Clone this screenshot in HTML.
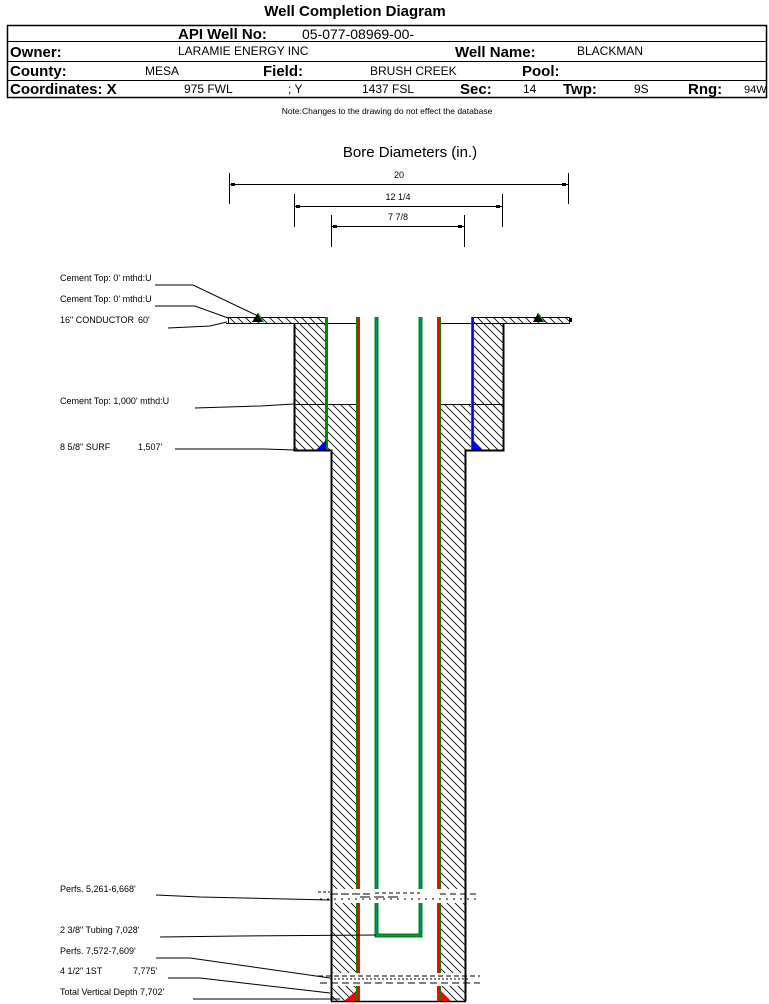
<!DOCTYPE html>
<html><head><meta charset="utf-8"><style>
html,body{margin:0;padding:0;background:#fff;}
svg{display:block;}
text{font-family:"Liberation Sans",sans-serif;fill:#000;}
</style></head><body>
<svg width="769" height="1004" viewBox="0 0 769 1004" xmlns="http://www.w3.org/2000/svg">
<defs>
<pattern id="h" width="8" height="8" patternUnits="userSpaceOnUse">
<line x1="0" y1="0" x2="8" y2="8" stroke="#000" stroke-width="0.8"/>
<line x1="-1" y1="7" x2="1" y2="9" stroke="#000" stroke-width="0.8"/>
<line x1="7" y1="-1" x2="9" y2="1" stroke="#000" stroke-width="0.8"/>
</pattern>
</defs>
<text x="355" y="16" font-size="15" font-weight="bold" text-anchor="middle">Well Completion Diagram</text>
<rect x="7.5" y="25.5" width="759" height="72" fill="none" stroke="#000" stroke-width="1.5"/>
<line x1="7" y1="41.5" x2="767" y2="41.5" stroke="#000"/>
<line x1="7" y1="61.5" x2="767" y2="61.5" stroke="#000"/>
<line x1="7" y1="80.5" x2="767" y2="80.5" stroke="#000"/>
<text x="178" y="39" font-size="15" font-weight="bold">API Well No:</text>
<text x="302" y="39" font-size="14">05-077-08969-00-</text>
<text x="10" y="57" font-size="15" font-weight="bold">Owner:</text>
<text x="178" y="55" font-size="12">LARAMIE ENERGY INC</text>
<text x="455" y="57" font-size="15" font-weight="bold">Well Name:</text>
<text x="577" y="55" font-size="12">BLACKMAN</text>
<text x="10" y="76" font-size="15" font-weight="bold">County:</text>
<text x="145" y="75" font-size="12">MESA</text>
<text x="263" y="76" font-size="15" font-weight="bold">Field:</text>
<text x="370" y="75" font-size="12">BRUSH CREEK</text>
<text x="522" y="76" font-size="15" font-weight="bold">Pool:</text>
<text x="10" y="94" font-size="15" font-weight="bold">Coordinates: X</text>
<text x="184" y="93" font-size="12">975 FWL</text>
<text x="288" y="93" font-size="12">; Y</text>
<text x="362" y="93" font-size="12">1437 FSL</text>
<text x="460" y="94" font-size="15" font-weight="bold">Sec:</text>
<text x="523" y="93" font-size="12">14</text>
<text x="563" y="94" font-size="15" font-weight="bold">Twp:</text>
<text x="634" y="93" font-size="12">9S</text>
<text x="688" y="94" font-size="15" font-weight="bold">Rng:</text>
<text x="744" y="93" font-size="11">94W</text>
<text x="387" y="114" font-size="8.5" text-anchor="middle">Note:Changes to the drawing do not effect the database</text>

<text x="410" y="157" font-size="15" text-anchor="middle">Bore Diameters (in.)</text>
<g stroke="#000" stroke-width="1">
<line x1="229.5" y1="173" x2="229.5" y2="204"/><line x1="568.5" y1="173" x2="568.5" y2="204"/>
<line x1="229" y1="184.5" x2="568" y2="184.5"/>
<line x1="294.5" y1="194" x2="294.5" y2="227"/><line x1="502.5" y1="194" x2="502.5" y2="227"/>
<line x1="294" y1="206.5" x2="502" y2="206.5"/>
<line x1="331.5" y1="215" x2="331.5" y2="247"/><line x1="464.5" y1="215" x2="464.5" y2="247"/>
<line x1="331" y1="226.5" x2="464" y2="226.5"/>
</g>
<g fill="#000">
<rect x="231" y="183" width="4" height="3"/><rect x="562" y="183" width="4" height="3"/>
<rect x="296" y="205" width="4" height="3"/><rect x="496" y="205" width="4" height="3"/>
<rect x="333" y="225" width="4" height="3"/><rect x="458" y="225" width="4" height="3"/>
</g>
<text x="399" y="178" font-size="9" text-anchor="middle">20</text>
<text x="398" y="200" font-size="9" text-anchor="middle">12 1/4</text>
<text x="398" y="220" font-size="9" text-anchor="middle">7 7/8</text>

<g fill="url(#h)">
<rect x="228" y="317" width="98" height="6"/>
<rect x="472" y="317" width="97" height="6"/>
<rect x="294" y="323" width="33" height="127"/>
<rect x="327" y="404" width="30" height="46"/>
<rect x="331" y="450" width="26" height="551"/>
<rect x="472" y="323" width="31" height="127"/>
<rect x="440" y="404" width="32" height="46"/>
<rect x="440" y="450" width="25" height="551"/>
</g>
<g stroke="#000" fill="none">
<rect x="228.5" y="317.5" width="98" height="6" stroke-width="1"/>
<rect x="472.5" y="317.5" width="97" height="6" stroke-width="1"/>
<line x1="226" y1="323.5" x2="357" y2="323.5"/>
<line x1="440" y1="323.5" x2="569" y2="323.5"/>
<polyline points="294.5,323 294.5,450.5 331.5,450.5 331.5,1001" stroke-width="2"/>
<polyline points="503.5,323 503.5,450.5 465.5,450.5 465.5,1001" stroke-width="2"/>
<line x1="294" y1="404.5" x2="357" y2="404.5"/>
<line x1="440" y1="404.5" x2="503" y2="404.5"/>
<line x1="331" y1="1001.5" x2="466" y2="1001.5" stroke-width="1.5"/>
</g>
<rect x="569" y="318" width="3" height="4" fill="#000"/>
<polygon points="252,322 258,313 264,322" fill="#000"/>
<line x1="258" y1="313" x2="263" y2="322" stroke="#0a0" stroke-width="1.2"/>
<polygon points="533,322 538,313 545,322" fill="#000"/>
<line x1="538" y1="313" x2="544" y2="322" stroke="#0a0" stroke-width="1.2"/>

<rect x="325" y="317" width="3" height="133" fill="#080"/>
<polygon points="316,450 326,450 326,440" fill="#00f"/>
<rect x="471" y="317" width="3" height="133" fill="#080"/>
<rect x="472" y="317" width="1.5" height="133" fill="#00f"/>
<polygon points="473,440 473,450 483,450" fill="#00f"/>

<rect x="356" y="317" width="4" height="684" fill="#080"/>
<rect x="357" y="317" width="2" height="684" fill="#f00"/>
<rect x="437" y="317" width="4" height="684" fill="#080"/>
<rect x="438" y="317" width="2" height="684" fill="#f00"/>
<polygon points="344,1001 356,1001 356,991" fill="#f00"/>
<polygon points="441,991 441,1001 451,1001" fill="#f00"/>

<path d="M376.5,317 V935.5 H420.5 V317" fill="none" stroke="#080" stroke-width="4"/>
<path d="M376.5,317 V935.5 H420.5 V317" fill="none" stroke="#088" stroke-width="1.5"/>

<rect x="313" y="889" width="170" height="14" fill="#fff"/>
<g stroke="#000" stroke-width="1">
<line x1="318" y1="892" x2="330" y2="892" stroke-dasharray="3,2"/>
<line x1="330" y1="894" x2="370" y2="894" stroke-dasharray="8,3"/>
<line x1="375" y1="893" x2="420" y2="893" stroke-dasharray="4,3"/>
<line x1="440" y1="894" x2="480" y2="894" stroke-dasharray="6,4"/>
<line x1="320" y1="899" x2="480" y2="899" stroke-dasharray="2,5"/>
<line x1="360" y1="897" x2="400" y2="897" stroke-dasharray="10,4"/>
</g>
<rect x="313" y="973" width="170" height="13" fill="#fff"/>
<g stroke="#000" stroke-width="1">
<line x1="318" y1="976" x2="480" y2="976" stroke-dasharray="5,3"/>
<line x1="330" y1="979" x2="470" y2="979" stroke-dasharray="2,2"/>
<line x1="320" y1="983" x2="480" y2="983" stroke-dasharray="7,4"/>
</g>
<line x1="331.5" y1="889" x2="331.5" y2="1001" stroke="#000" stroke-width="2"/>
<line x1="465.5" y1="889" x2="465.5" y2="1001" stroke="#000" stroke-width="2"/>

<g font-size="9">
<text x="60" y="281">Cement Top: 0' mthd:U</text>
<text x="60" y="302">Cement Top: 0' mthd:U</text>
<text x="60" y="323">16" CONDUCTOR</text><text x="138" y="323">60'</text>
<text x="60" y="404">Cement Top: 1,000' mthd:U</text>
<text x="60" y="450">8 5/8" SURF</text><text x="138" y="450">1,507'</text>
<text x="60" y="892">Perfs. 5,261-6,668'</text>
<text x="60" y="933">2 3/8" Tubing 7,028'</text>
<text x="60" y="954">Perfs. 7,572-7,609'</text>
<text x="60" y="974">4 1/2" 1ST</text><text x="133" y="974">7,775'</text>
<text x="60" y="995">Total Vertical Depth 7,702'</text>
</g>
<g stroke="#000" stroke-width="1" fill="none">
<polyline points="155,285 193,285 258,316"/>
<polyline points="155,306 195,306 228,318"/>
<polyline points="168,328 210,326 227,322"/>
<polyline points="195,408 260,406 294,404"/>
<polyline points="175,449 265,449 294,450"/>
<polyline points="156,895 200,897 330,900"/>
<polyline points="160,937 240,936 376,935"/>
<polyline points="156,958 190,958 330,978"/>
<polyline points="168,978 200,978 330,993"/>
<polyline points="193,999 255,999 340,999"/>
</g>
</svg>
</body></html>
